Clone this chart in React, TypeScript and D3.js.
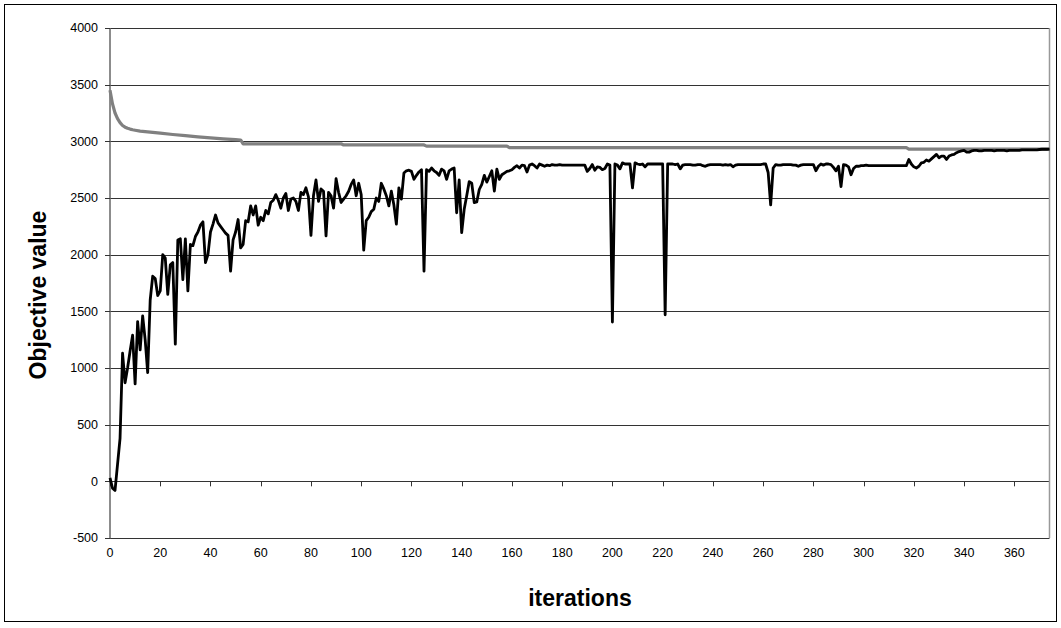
import React, { useEffect, useRef } from "react";
import * as d3 from "d3";

const yTicks = [-500, 0, 500, 1000, 1500, 2000, 2500, 3000, 3500, 4000];
const xTicks = [0, 20, 40, 60, 80, 100, 120, 140, 160, 180, 200, 220, 240, 260, 280, 300, 320, 340, 360];

// Black series: objective value at each iteration 0..374
const currentValues = [
  30, -60, -80, 150, 380, 1130, 870, 1000, 1150, 1290,
  860, 1410, 1160, 1460, 1250, 960, 1600, 1810, 1790, 1640,
  1680, 2000, 1970, 1650, 1910, 1930, 1210, 2130, 2140, 1780,
  2140, 1680, 2090, 2080, 2160, 2200, 2260, 2290, 1930, 2000,
  2200, 2270, 2350, 2280, 2250, 2220, 2190, 2170, 1855, 2130,
  2200, 2310, 2060, 2090, 2300, 2290, 2430, 2350, 2430, 2260,
  2330, 2300, 2390, 2360, 2460, 2480, 2530, 2480, 2410, 2500,
  2540, 2390, 2490, 2500, 2470, 2390, 2550, 2530, 2590, 2510,
  2170, 2520, 2660, 2470, 2580, 2560, 2165, 2550, 2520, 2410,
  2670, 2550, 2460, 2490, 2520, 2560, 2620, 2660, 2520, 2630,
  2530, 2040, 2300, 2330, 2380, 2400, 2500, 2470, 2630, 2580,
  2520, 2430, 2560, 2440, 2270, 2590, 2490, 2720, 2740, 2745,
  2735, 2665, 2700, 2730, 2750, 1855, 2750, 2735, 2765, 2740,
  2725, 2700, 2755, 2740, 2665, 2740, 2755, 2765, 2370, 2660,
  2195, 2400, 2520, 2645, 2630, 2460, 2465, 2575, 2620, 2700,
  2640, 2690, 2740, 2560, 2755, 2665, 2705, 2720, 2735, 2740,
  2750, 2770, 2785, 2765, 2790, 2785, 2730, 2790, 2800, 2785,
  2765, 2800, 2790, 2780, 2790, 2785, 2795, 2790, 2790, 2795,
  2790, 2790, 2790, 2790, 2790, 2790, 2790, 2790, 2790, 2790,
  2735, 2760, 2795, 2745, 2775, 2770, 2750, 2760, 2800, 2790,
  1405, 2800, 2790, 2757, 2810, 2800, 2800, 2800, 2590, 2810,
  2800, 2795, 2800, 2775, 2800, 2800, 2800, 2800, 2800, 2800,
  2800, 1470, 2800, 2800, 2800, 2795, 2800, 2757, 2790, 2795,
  2795, 2795, 2790, 2790, 2795, 2795, 2785, 2780, 2790, 2795,
  2795, 2795, 2795, 2795, 2790, 2795, 2790, 2795, 2775, 2790,
  2795, 2795, 2795, 2795, 2795, 2795, 2795, 2795, 2795, 2795,
  2800, 2800, 2725, 2440, 2765, 2795, 2790, 2790, 2795, 2795,
  2795, 2795, 2790, 2790, 2780, 2790, 2795, 2795, 2795, 2795,
  2795, 2740, 2780, 2800, 2790, 2800, 2800, 2795, 2770, 2740,
  2780, 2600, 2795, 2790, 2775, 2705, 2760, 2780, 2780, 2785,
  2785, 2790, 2785, 2785, 2785, 2785, 2785, 2785, 2785, 2785,
  2785, 2785, 2785, 2785, 2785, 2785, 2785, 2785, 2840, 2800,
  2775, 2765, 2780, 2810, 2815, 2835, 2825, 2845, 2865, 2885,
  2855, 2870, 2870, 2840, 2870, 2880, 2885, 2900, 2910, 2915,
  2920, 2905, 2905, 2915, 2920, 2920, 2915, 2915, 2920, 2920,
  2920, 2920, 2915, 2920, 2920, 2920, 2920, 2915, 2920, 2920,
  2920, 2920, 2920, 2925, 2925, 2925, 2925, 2925, 2925, 2925,
  2928, 2930, 2930, 2930, 2932,
];

// Grey series (bound) as [iteration, value] change points
const boundIters = [0, 1, 2, 3, 4, 5, 6, 7, 8, 9, 10, 12, 15, 20, 25, 30, 35, 40, 45, 50, 52, 53, 92, 93, 125, 126, 158, 159, 317, 318, 374];
const boundValues = [3450, 3330, 3250, 3200, 3165, 3140, 3125, 3115, 3108, 3102, 3098, 3090, 3083, 3072, 3060, 3050, 3040, 3030, 3022, 3015, 3012, 2978, 2978, 2968, 2968, 2958, 2958, 2945, 2945, 2932, 2932];

const W = 1061;
const H = 628;
const left = 110;
const right = 1049.5;
const top = 28;
const bottom = 538;
const FONT = "Liberation Sans, Arial, sans-serif";

export default function App() {
  const ref = useRef<SVGSVGElement | null>(null);

  useEffect(() => {
    const svg = d3.select(ref.current);
    svg.selectAll("*").remove();

    const x = d3.scaleLinear().domain([0, currentValues.length - 1]).range([left, right]);
    const y = d3.scaleLinear().domain([-500, 4000]).range([bottom, top]);

    svg.append("rect").attr("width", W).attr("height", H).attr("fill", "#fff");
    svg.append("rect")
      .attr("x", 4.5).attr("y", 4.5).attr("width", 1052).attr("height", 617)
      .attr("fill", "none").attr("stroke", "#000").attr("stroke-width", 1);

    // gridlines
    svg.append("g").selectAll("line").data(yTicks).join("line")
      .attr("x1", left).attr("x2", right)
      .attr("y1", (d) => Math.round(y(d)) + 0.5).attr("y2", (d) => Math.round(y(d)) + 0.5)
      .attr("stroke", "#333").attr("stroke-width", 1);

    // plot right border
    svg.append("line")
      .attr("x1", right).attr("x2", right).attr("y1", top).attr("y2", bottom)
      .attr("stroke", "#999").attr("stroke-width", 1.5);

    // y axis
    svg.append("line")
      .attr("x1", left).attr("x2", left).attr("y1", top).attr("y2", bottom + 0.5)
      .attr("stroke", "#666").attr("stroke-width", 1.5);
    svg.append("g").selectAll("line").data(yTicks).join("line")
      .attr("x1", left - 5).attr("x2", left)
      .attr("y1", (d) => Math.round(y(d)) + 0.5).attr("y2", (d) => Math.round(y(d)) + 0.5)
      .attr("stroke", "#333");
    svg.append("g").selectAll("text").data(yTicks).join("text")
      .attr("x", left - 12).attr("y", (d) => y(d))
      .attr("dy", "0.35em").attr("text-anchor", "end")
      .attr("font-family", FONT).attr("font-size", 12.5)
      .attr("fill", "#000").text((d) => String(d));

    // x ticks on zero line
    svg.append("g").selectAll("line").data(xTicks).join("line")
      .attr("x1", (d) => Math.round(x(d)) + 0.5).attr("x2", (d) => Math.round(x(d)) + 0.5)
      .attr("y1", y(0)).attr("y2", y(0) + 5)
      .attr("stroke", "#333");
    svg.append("g").selectAll("text").data(xTicks).join("text")
      .attr("x", (d) => x(d)).attr("y", bottom + 19)
      .attr("text-anchor", "middle")
      .attr("font-family", FONT).attr("font-size", 12.5)
      .attr("fill", "#000").text((d) => String(d));

    // titles
    svg.append("text")
      .attr("x", 580).attr("y", 606).attr("text-anchor", "middle")
      .attr("font-family", FONT).attr("font-size", 23)
      .attr("font-weight", "bold").text("iterations");
    svg.append("text")
      .attr("transform", `translate(46, ${(top + bottom) / 2 + 12}) rotate(-90)`)
      .attr("text-anchor", "middle")
      .attr("font-family", FONT).attr("font-size", 23)
      .attr("font-weight", "bold").text("Objective value");

    // bound line (grey)
    const boundData = boundIters.map((it, k) => [it, boundValues[k]] as [number, number]);
    svg.append("path")
      .datum(boundData)
      .attr("fill", "none").attr("stroke", "#808080").attr("stroke-width", 3.2)
      .attr("stroke-linejoin", "round")
      .attr("d", d3.line<[number, number]>().x((d) => x(d[0])).y((d) => y(d[1])));

    // current objective (black)
    svg.append("path")
      .datum(currentValues)
      .attr("fill", "none").attr("stroke", "#000").attr("stroke-width", 2.8)
      .attr("stroke-linejoin", "round")
      .attr("d", d3.line<number>().x((_, i) => x(i)).y((d) => y(d)));
  }, []);

  return (
    <svg
      ref={ref}
      width={W}
      height={H}
      style={{ position: "absolute", left: 0, top: 0, display: "block" }}
    />
  );
}
